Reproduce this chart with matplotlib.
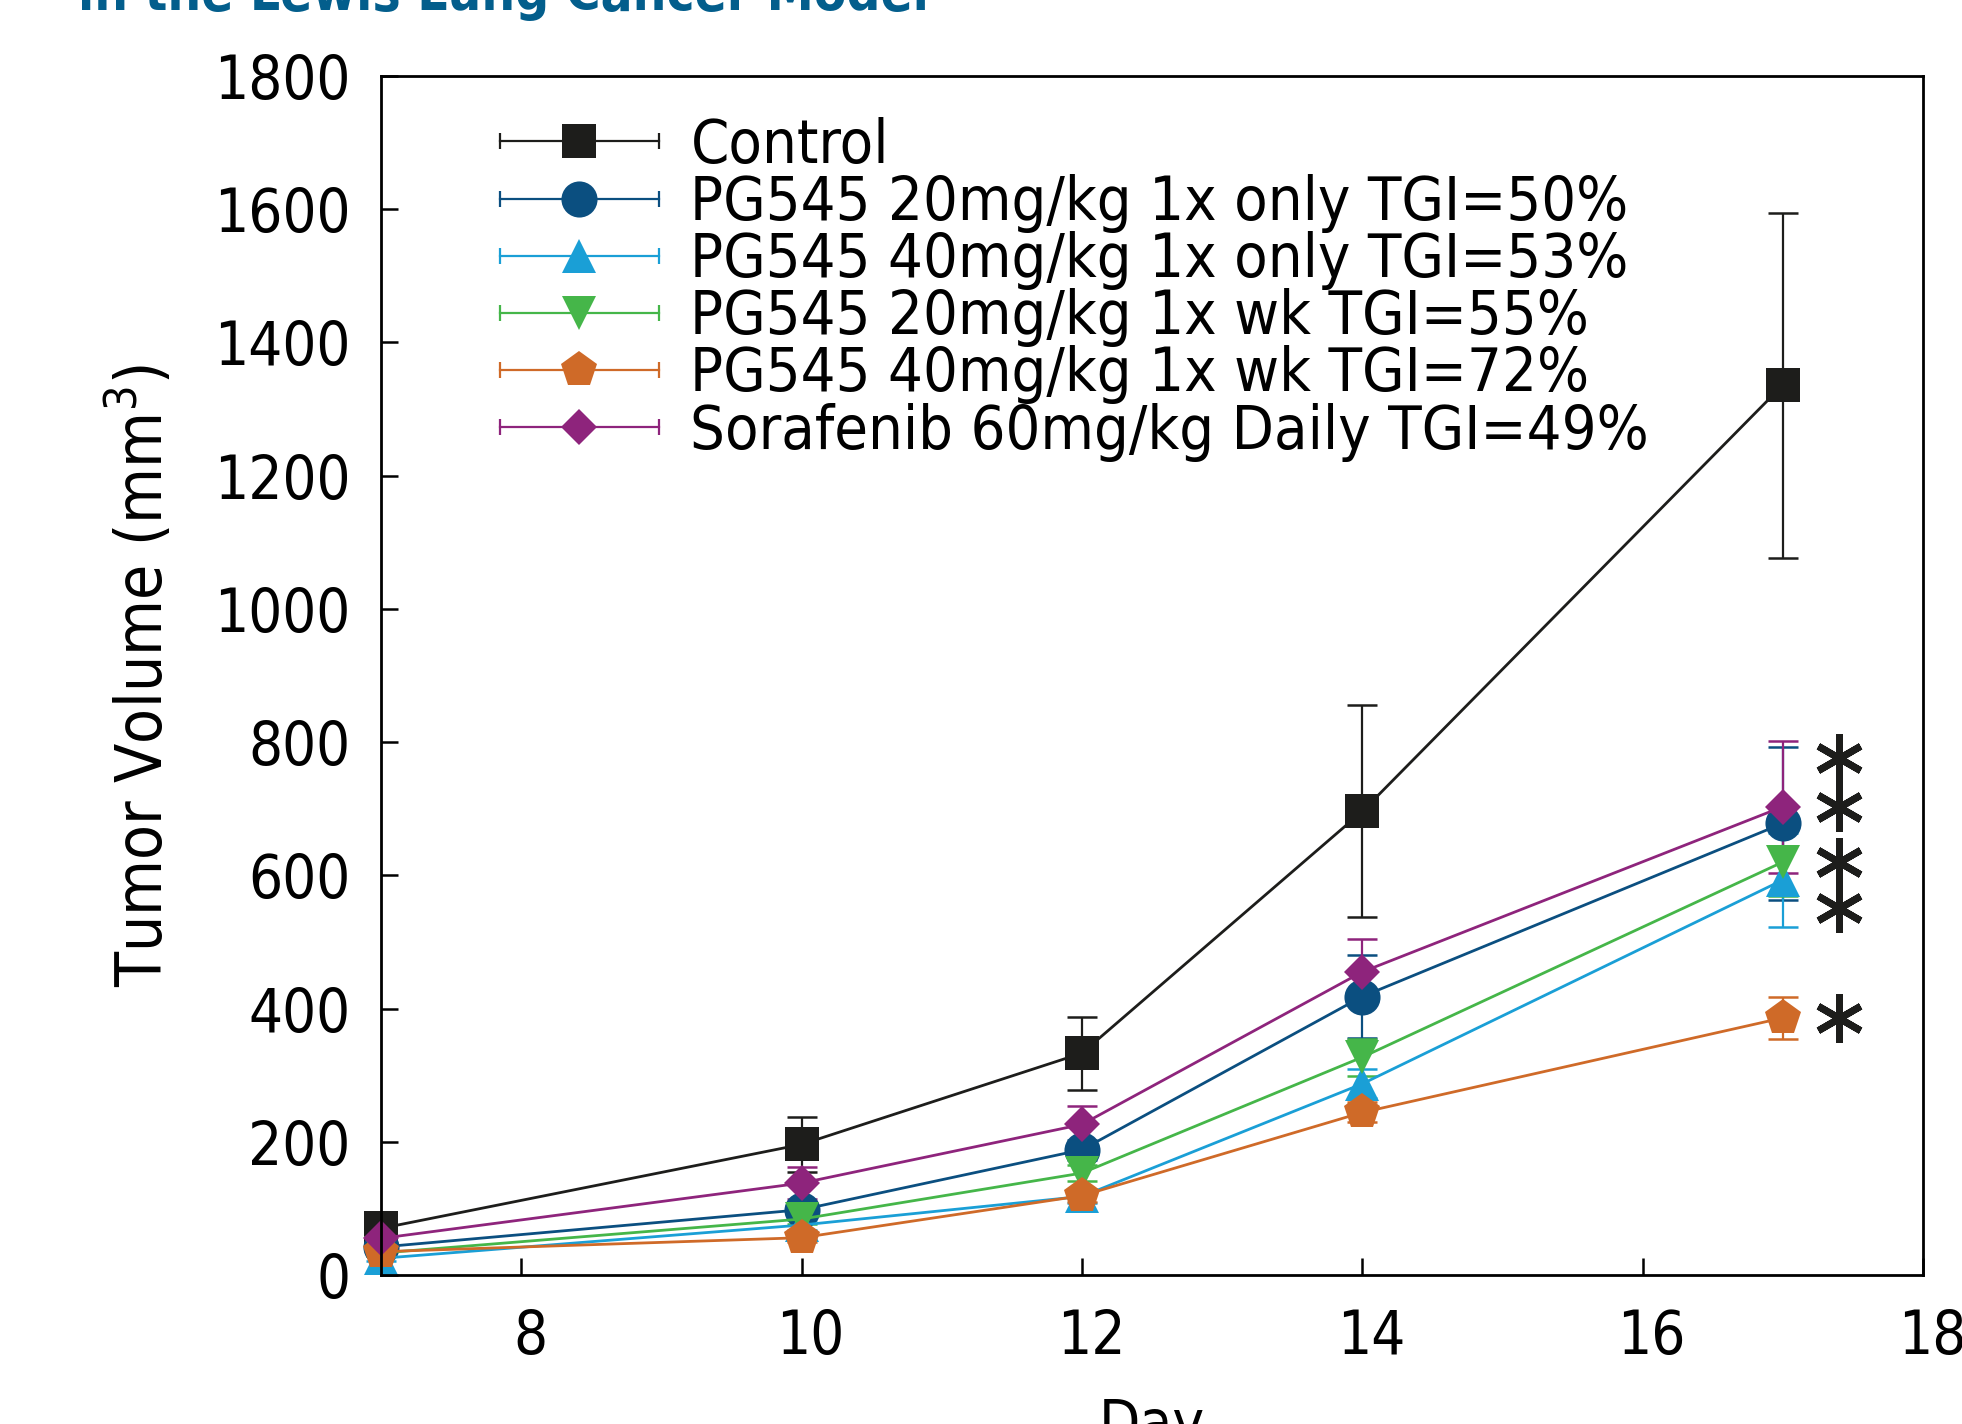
import matplotlib
matplotlib.use("Agg")
import matplotlib.pyplot as plt
import matplotlib.transforms as mtransforms
from matplotlib.container import ErrorbarContainer
from matplotlib.legend_handler import HandlerBase
from matplotlib.lines import Line2D

plt.rcParams['font.family'] = ['DejaVu Sans']
plt.rcParams['font.stretch'] = 'condensed'
plt.rcParams['mathtext.fontset'] = 'dejavusans'

# tumour volume (mm^3) per group, mean and error
days = [7, 10, 12, 14, 17]

control = [70, 196, 333, 696, 1336]
control_err = [8, 41, 55, 159, 259]

pg20_once = [42, 98, 188, 418, 678]
pg20_once_err = [5, 12, 15, 62, 115]

pg40_once = [25, 75, 118, 287, 593]
pg40_once_err = [4, 8, 10, 22, 70]

pg20_wk = [33, 84, 153, 327, 620]
pg20_wk_err = [4, 8, 12, 28, 51]

pg40_wk = [35, 56, 119, 244, 386]
pg40_wk_err = [4, 6, 10, 15, 32]

sora = [55, 138, 226, 455, 703]
sora_err = [6, 24, 28, 50, 99]

labels = ['Control',
          'PG545 20mg/kg 1x only TGI=50%',
          'PG545 40mg/kg 1x only TGI=53%',
          'PG545 20mg/kg 1x wk TGI=55%',
          'PG545 40mg/kg 1x wk TGI=72%',
          'Sorafenib 60mg/kg Daily TGI=49%']

# significance marks next to the day-17 points
star_x = 17.4
star_y = [776, 703, 620, 551, 386]

series = [
    (control, control_err, '#1d1d1b', 's', 25),
    (pg20_once, pg20_once_err, '#0b4f80', 'o', 26),
    (pg40_once, pg40_once_err, '#1a9fd6', '^', 25),
    (pg20_wk, pg20_wk_err, '#45b649', 'v', 25),
    (pg40_wk, pg40_wk_err, '#cf6a28', 'p', 27),
    (sora, sora_err, '#8e247c', 'D', 18),
]


class ErrLegendHandler(HandlerBase):
    # horizontal line with caps at both ends and the marker in the middle
    def create_artists(self, legend, orig_handle, xdescent, ydescent,
                       width, height, fontsize, trans):
        src = orig_handle.lines[0]
        c = src.get_color()
        y = height / 2 - ydescent
        x0, x1 = -xdescent, width - xdescent
        line = Line2D([x0, x1], [y, y], color=c, lw=1.6)
        caps = Line2D([x0, x1], [y, y], color=c, ls='none', marker='|',
                      markersize=12, markeredgewidth=1.6)
        mark = Line2D([(x0 + x1) / 2], [y], color=c, ls='none',
                      marker=src.get_marker(), markersize=src.get_markersize(),
                      markeredgewidth=0)
        for a in (line, caps, mark):
            a.set_transform(trans)
        return [line, caps, mark]


fig = plt.figure(figsize=(19.62, 14.24), dpi=100)
ax = fig.add_axes([381 / 1962, 1 - 1275 / 1424, 1542 / 1962, 1199 / 1424])

for (vals, errs, col, mk, ms), lab in zip(series, labels):
    eb = ax.errorbar(days, vals, yerr=errs, color=col, marker=mk,
                     markersize=ms, lw=2.0, elinewidth=1.6, capsize=11,
                     capthick=1.8, label=lab, clip_on=False)
    eb.lines[0].set_markeredgewidth(0)

ax.plot([star_x] * len(star_y), star_y, ls='none', marker=(6, 2, 0),
        markersize=35, markeredgewidth=5, color='#1d1d1b')

ax.set_xlim(7, 18)
ax.set_ylim(0, 1800)
ax.set_xticks([8, 10, 12, 14, 16, 18])
ax.set_yticks(range(0, 1801, 200))

for s in ax.spines.values():
    s.set_linewidth(2)
ax.tick_params(direction='in', length=12, width=1.8, labelsize=43,
               top=False, right=False)
ax.tick_params(axis='x', pad=24)
ax.tick_params(axis='y', pad=22)

# x tick labels sit a little right of their ticks
shift = mtransforms.ScaledTranslation(0.09, 0, fig.dpi_scale_trans)
for t in ax.get_xticklabels():
    t.set_transform(t.get_transform() + shift)

ax.set_xlabel('Day', fontsize=43, labelpad=21)
ax.set_ylabel('Tumor Volume (mm$^3$)', fontsize=46, labelpad=28)

ax.legend(handler_map={ErrorbarContainer: ErrLegendHandler()},
          loc='upper left', bbox_to_anchor=(0.077, 0.966), frameon=False,
          fontsize=44, handlelength=2.6, handletextpad=0.52,
          labelspacing=-0.03, borderpad=0, borderaxespad=0)

fig.text(78 / 1962, 1 - 10 / 1424, 'in the Lewis Lung Cancer Model',
         color='#035e8c', fontsize=38, fontweight='bold', va='baseline',
         fontstretch='condensed')

fig.savefig('out.png', dpi=100, facecolor='white')
